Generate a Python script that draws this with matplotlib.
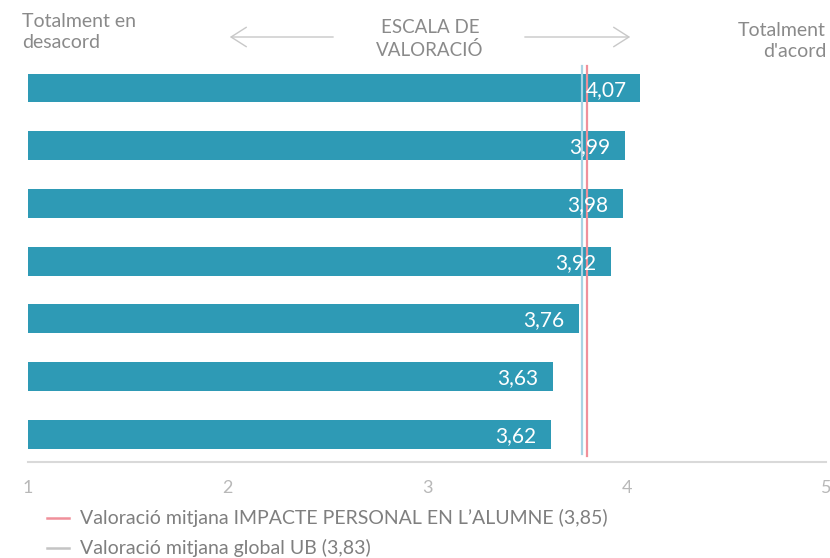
import matplotlib.pyplot as plt
from matplotlib.lines import Line2D
from matplotlib.patches import FancyArrowPatch

# values (top to bottom)
values = [4.07, 3.99, 3.98, 3.92, 3.76, 3.63, 3.62]
labels = ['4,07', '3,99', '3,98', '3,92', '3,76', '3,63', '3,62']

# reference lines, as drawn in the picture
line_impacte = 3.80
line_global = 3.775
legend_labels = ['Valoració mitjana IMPACTE PERSONAL EN L\u2019ALUMNE (3,85)',
                 'Valoració mitjana global UB (3,83)']

xticks = [1, 2, 3, 4, 5]

bar_color = '#2e9ab5'
grey_text = '#8a8a8a'

plt.rcParams['font.family'] = ['Lato', 'DejaVu Sans']

fig = plt.figure(figsize=(8.3, 5.58), dpi=100)
ax = fig.add_axes([28 / 830, 1 - 462 / 558, 798 / 830, 400 / 558])

ypos = list(range(len(values)))
ax.barh(ypos, [v - 1 for v in values], left=1, height=0.5, color=bar_color)
for y, v, lab in zip(ypos, values, labels):
    ax.text(v - 0.07, y + 0.03, lab, color='white', ha='right', va='center',
            fontsize=15, zorder=5)

ax.axvline(line_global, ymin=0.02, ymax=0.99, color='#a9d3e3', lw=1.6, zorder=3)
ax.axvline(line_impacte, ymin=0.015, ymax=0.99, color='#f0909a', lw=1.6, zorder=3)

ax.set_xlim(1, 5)
ax.set_ylim(6.48, -0.45)
ax.set_yticks([])
ax.set_xticks(xticks)
ax.set_xticklabels([str(t) for t in xticks], color='#b8b8b8', fontsize=13)
ax.tick_params(axis='x', length=0, pad=13)
for s in ['top', 'right', 'left']:
    ax.spines[s].set_visible(False)
ax.spines['bottom'].set_color('#d9d9d9')
ax.spines['bottom'].set_linewidth(1.5)

# header texts and arrows
fig.text(22 / 830, 1 - 32 / 558, 'Totalment en\ndesacord', ha='left', va='center',
         color=grey_text, fontsize=14, linespacing=1.3)
fig.text(826 / 830, 1 - 41 / 558, 'Totalment\nd\'acord', ha='right', va='center',
         color=grey_text, fontsize=14, linespacing=1.3)
fig.text(430 / 830, 1 - 39 / 558, 'ESCALA DE\nVALORACIÓ', ha='center', va='center',
         color=grey_text, fontsize=13.5, linespacing=1.3)
arrow_kw = dict(arrowstyle='->,head_length=0.55,head_width=0.35', color='#c8c8c8',
                lw=1, mutation_scale=20, transform=fig.transFigure)
fig.add_artist(FancyArrowPatch((336 / 830, 1 - 37 / 558), (227 / 830, 1 - 37 / 558),
                               **arrow_kw))
fig.add_artist(FancyArrowPatch((522 / 830, 1 - 37 / 558), (633 / 830, 1 - 37 / 558),
                               **arrow_kw))

# legend drawn by hand
legend_colors = ['#f0909a', '#c4c4c4']
legend_y = [518, 548]
for lab, col, yy in zip(legend_labels, legend_colors, legend_y):
    fig.add_artist(Line2D([47 / 830, 69 / 830], [1 - yy / 558, 1 - yy / 558],
                          color=col, lw=1.8, transform=fig.transFigure))
    fig.text(80 / 830, 1 - yy / 558, lab, ha='left', va='center',
             color='#7f7f7f', fontsize=14)

fig.savefig('out.png', dpi=100)
